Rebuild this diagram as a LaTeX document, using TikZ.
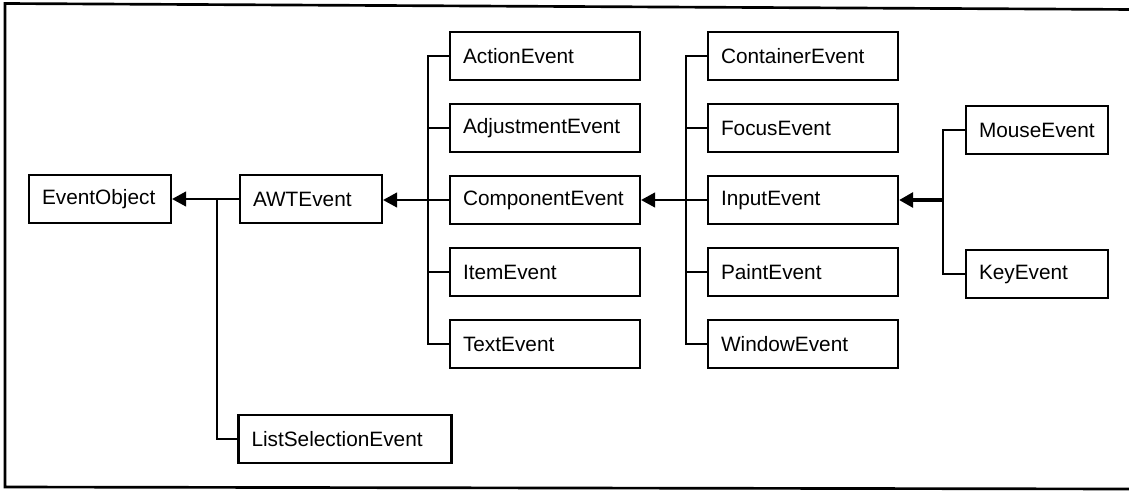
\documentclass[tikz,border=0pt]{standalone}
\usepackage{fontspec}
\setmainfont{Liberation Sans}
\usetikzlibrary{arrows.meta}

\tikzset{
  cls/.style={draw, line width=1.6pt, fill=white,
    minimum width={#1*0.75pt}, minimum height=36pt,
    text width={#1*0.75pt-19.5pt}, inner xsep=9.75pt, inner ysep=0pt,
    align=left, font=\fontsize{15.6}{18}\selectfont},
  link/.style={line width=1.6pt},
  inherit/.style={line width=1.6pt, -{Triangle[length=10.5pt,width=11pt]}},
  inheritthick/.style={line width=3pt, -{Triangle[length=10.5pt,width=11pt]}},
  frame/.style={line width=2pt}
}

\begin{document}
\begin{tikzpicture}[x=0.75pt,y=-0.75pt]
\useasboundingbox (0,0) rectangle (1129,490);

% outer frame (open on the right)
\draw[frame] (1135,9.5) -- (5,3.5) -- (5,487) -- (1135,489);

% root and first level
\node[cls=142] (eo)  at (100,199) {EventObject};
\node[cls=142] (awt) at (311,199) {AWTEvent};
\node[cls=213] (lse) at (345,439) {ListSelectionEvent};

% AWTEvent subclasses
\node[cls=190] (action) at (545,56)  {ActionEvent};
\node[cls=190] (adjust) at (545,128) {AdjustmentEvent};
\node[cls=190] (comp)   at (545,200) {ComponentEvent};
\node[cls=190] (item)   at (545,272) {ItemEvent};
\node[cls=190] (text)   at (545,344) {TextEvent};

% ComponentEvent subclasses
\node[cls=190] (cont)   at (803,56)  {ContainerEvent};
\node[cls=190] (focus)  at (803,128) {FocusEvent};
\node[cls=190] (input)  at (803,200) {InputEvent};
\node[cls=190] (paint)  at (803,272) {PaintEvent};
\node[cls=190] (window) at (803,344) {WindowEvent};

% InputEvent subclasses
\node[cls=142] (mouse) at (1037,130) {MouseEvent};
\node[cls=142] (key)   at (1037,274) {KeyEvent};

% junction points of the trunks
\coordinate (j1) at (217,199);
\coordinate (j2) at (428,200);
\coordinate (j3) at (686,200);
\coordinate (j4) at (943,200);

% AWTEvent / ListSelectionEvent -> EventObject
\draw[inherit] (awt.west) -- (eo.east);
\draw[link] (j1) |- (lse.west);

% AWTEvent branch
\draw[inherit] (comp.west) -- (comp.west -| awt.east);
\draw[link] (action.west) -- (action.west -| j2) |- (text.west);
\draw[link] (adjust.west) -- (adjust.west -| j2);
\draw[link] (item.west) -- (item.west -| j2);

% ComponentEvent branch
\draw[inherit] (input.west) -- (comp.east);
\draw[link] (cont.west) -- (cont.west -| j3) |- (window.west);
\draw[link] (focus.west) -- (focus.west -| j3);
\draw[link] (paint.west) -- (paint.west -| j3);

% InputEvent branch
\draw[link] (mouse.west) -- (mouse.west -| j4) |- (key.west);
\draw[inheritthick] (j4) -- (input.east);
\end{tikzpicture}
\end{document}
